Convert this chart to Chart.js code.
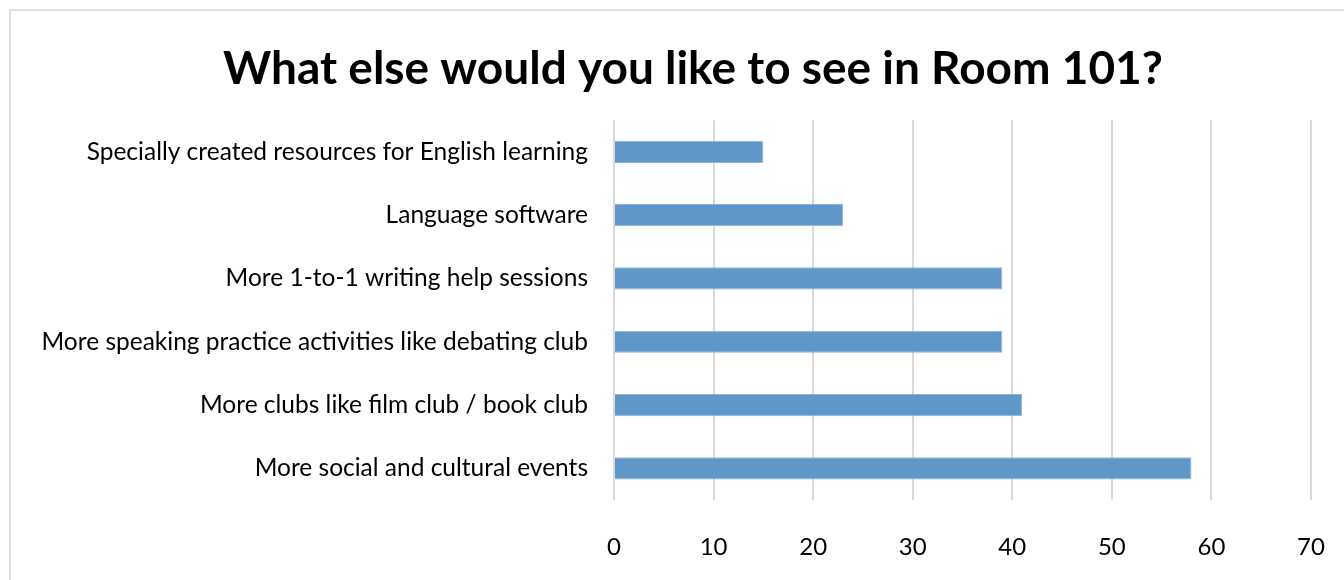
<!DOCTYPE html>
<html>
<head>
<meta charset="utf-8">
<script src="https://cdn.jsdelivr.net/npm/chart.js@4/dist/chart.umd.min.js"></script>
<style>
  html, body { margin: 0; padding: 0; background: #fff; overflow: hidden; width: 1344px; height: 580px; }
  #frame {
    position: absolute; left: 9px; top: 9px; width: 1400px; height: 700px;
    border: 2px solid #e0e0e0; box-sizing: border-box;
  }
  #wrap { position: absolute; left: 0; top: 0; width: 1386px; height: 580px; }
</style>
</head>
<body>
<div id="frame"></div>
<div id="wrap"><canvas id="roomChart"></canvas></div>
<script>
// Survey answers
const categories = [
    'Specially created resources for English learning',
    'Language software',
    'More 1-to-1 writing help sessions',
    'More speaking practice activities like debating club',
    'More clubs like film club / book club',
    'More social and cultural events'
];
const responses = [15, 23, 39, 39, 41, 58];
const xTicks = [0, 10, 20, 30, 40, 50, 60, 70];

function createRoomChart() {
    const ctx = document.getElementById('roomChart').getContext('2d');

    new Chart(ctx, {
        type: 'bar',
        data: {
            labels: categories,
            datasets: [{
                label: 'Responses',
                data: responses,
                backgroundColor: '#6097c9',
                borderColor: '#8db5dc',
                borderWidth: 1,
                categoryPercentage: 1,
                barPercentage: 0.35
            }]
        },
        options: {
            indexAxis: 'y',
            responsive: true,
            maintainAspectRatio: false,
            animation: false,
            layout: { padding: 0 },
            plugins: {
                legend: { display: false },
                tooltip: { enabled: false },
                title: {
                    display: true,
                    text: 'What else would you like to see in Room 101?',
                    color: '#000',
                    font: { family: 'Lato', size: 46, weight: 'bold' },
                    padding: { top: 42, bottom: 23 }
                }
            },
            scales: {
                x: {
                    min: 0,
                    max: 70,
                    afterBuildTicks: (axis) => { axis.ticks = xTicks.map(v => ({ value: v })); },
                    // room on the right so the plot ends where the reference does
                    afterFit: (axis) => { axis.height = 80; axis.paddingRight = 75; axis.paddingLeft = 0; },
                    border: { display: false },
                    grid: { color: '#d9d9d9', lineWidth: 2, drawTicks: false },
                    ticks: {
                        color: '#000',
                        padding: 33,
                        font: { family: 'Lato', size: 24 }
                    }
                },
                y: {
                    afterFit: (axis) => { axis.width = 614; },
                    border: { display: false },
                    grid: { display: false, drawTicks: false },
                    ticks: {
                        color: '#000',
                        padding: 26,
                        font: { family: 'Lato', size: 24.5 }
                    }
                }
            }
        }
    });
}

document.addEventListener('DOMContentLoaded', () => {
    createRoomChart();
});
</script>
</body>
</html>
